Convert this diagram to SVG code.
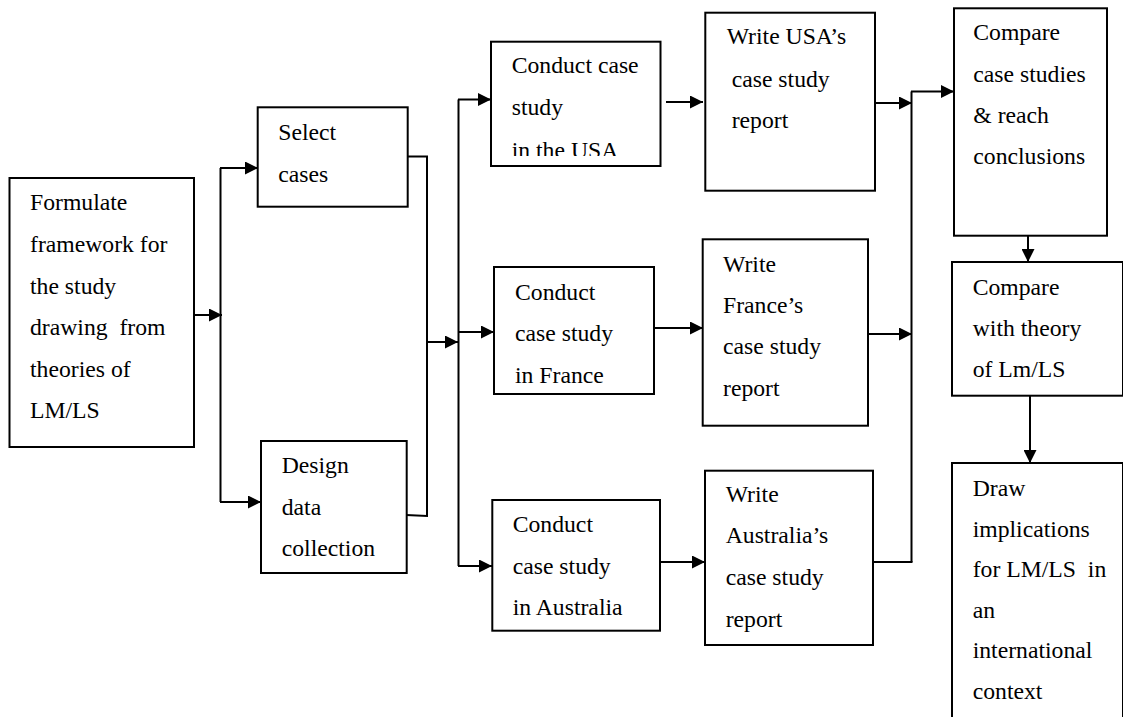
<svg xmlns="http://www.w3.org/2000/svg" width="1123" height="717" viewBox="0 0 1123 717">
<style>
.box{fill:#fff;stroke:#000;stroke-width:2}
.ln{fill:none;stroke:#000;stroke-width:2}
.t{font-family:"Liberation Serif","Times New Roman",serif;font-size:23.7px;fill:#000;white-space:pre}
</style>
<defs>
<marker id="ah" markerUnits="userSpaceOnUse" markerWidth="13" markerHeight="13" refX="13" refY="6.5" orient="auto">
<path d="M0,0 L13,6.5 L0,13 z" fill="#000"/>
</marker>
<clipPath id="clipUSA"><rect x="491" y="41" width="170" height="115"/></clipPath>
</defs>
<rect width="1123" height="717" fill="#fff"/>
<g id="connectors">
<line class="ln" x1="194" y1="315" x2="222" y2="315" marker-end="url(#ah)"/>
<line class="ln" x1="220.5" y1="168" x2="220.5" y2="502"/>
<line class="ln" x1="220" y1="168" x2="258" y2="168" marker-end="url(#ah)"/>
<line class="ln" x1="220" y1="502" x2="261" y2="502" marker-end="url(#ah)"/>
<polyline class="ln" points="408,156.5 427,156.5 427,516 406,515"/>
<line class="ln" x1="427" y1="342" x2="458" y2="342" marker-end="url(#ah)"/>
<line class="ln" x1="458.5" y1="99.5" x2="458.5" y2="566"/>
<line class="ln" x1="458" y1="99.5" x2="491" y2="99.5" marker-end="url(#ah)"/>
<line class="ln" x1="458" y1="332" x2="494" y2="332" marker-end="url(#ah)"/>
<line class="ln" x1="458" y1="566" x2="492" y2="566" marker-end="url(#ah)"/>
<line class="ln" x1="666" y1="102" x2="703" y2="102" marker-end="url(#ah)"/>
<line class="ln" x1="654" y1="328" x2="703" y2="328" marker-end="url(#ah)"/>
<line class="ln" x1="660" y1="562" x2="705" y2="562" marker-end="url(#ah)"/>
<line class="ln" x1="875" y1="103" x2="912" y2="103" marker-end="url(#ah)"/>
<line class="ln" x1="867" y1="334" x2="912" y2="334" marker-end="url(#ah)"/>
<line class="ln" x1="873" y1="562" x2="912.5" y2="562"/>
<line class="ln" x1="911.5" y1="91.5" x2="911.5" y2="562"/>
<line class="ln" x1="911" y1="91.5" x2="954" y2="91.5" marker-end="url(#ah)"/>
<line class="ln" x1="1028" y1="195" x2="1028" y2="262" marker-end="url(#ah)"/>
<line class="ln" x1="1030" y1="396" x2="1030" y2="463" marker-end="url(#ah)"/>
</g>
<g id="formulate">
<rect class="box" x="9.5" y="178" width="184.5" height="269"/>
<text class="t" x="30" y="210">Formulate</text>
<text class="t" x="30" y="252">framework for</text>
<text class="t" x="30" y="293.5">the study</text>
<text class="t" x="30" y="335">drawing  from</text>
<text class="t" x="30" y="376.5">theories of</text>
<text class="t" x="30" y="418">LM/LS</text>
</g>
<g id="select">
<rect class="box" x="257.7" y="107.3" width="150" height="99.4"/>
<text class="t" x="278.3" y="140">Select</text>
<text class="t" x="278.3" y="181.7">cases</text>
</g>
<g id="design">
<rect class="box" x="261" y="441" width="145.7" height="132"/>
<text class="t" x="281.7" y="472.7">Design</text>
<text class="t" x="281.7" y="514.5">data</text>
<text class="t" x="281.7" y="556">collection</text>
</g>
<g id="conduct-usa">
<rect class="box" x="491" y="41.7" width="169.5" height="124.3"/>
<text class="t" x="511.7" y="73.3">Conduct case</text>
<text class="t" x="511.7" y="115">study</text>
<text class="t" x="511.7" y="158.3" clip-path="url(#clipUSA)">in the USA</text>
</g>
<g id="write-usa">
<rect class="box" x="705.3" y="12.7" width="169.7" height="178"/>
<text class="t" x="726.7" y="44">Write USA’s</text>
<text class="t" x="731.7" y="86.7">case study</text>
<text class="t" x="731.7" y="128.3">report</text>
</g>
<g id="conduct-france">
<rect class="box" x="494" y="267" width="160" height="127"/>
<text class="t" x="515" y="300">Conduct</text>
<text class="t" x="515" y="341">case study</text>
<text class="t" x="515" y="382.7">in France</text>
</g>
<g id="write-france">
<rect class="box" x="702.7" y="239.3" width="165.3" height="186.4"/>
<text class="t" x="723" y="271.7">Write</text>
<text class="t" x="723" y="312.7">France’s</text>
<text class="t" x="723" y="354">case study</text>
<text class="t" x="723" y="395.7">report</text>
</g>
<g id="conduct-australia">
<rect class="box" x="492.3" y="500" width="167.7" height="130.7"/>
<text class="t" x="512.7" y="532">Conduct</text>
<text class="t" x="512.7" y="574">case study</text>
<text class="t" x="512.7" y="615">in Australia</text>
</g>
<g id="write-australia">
<rect class="box" x="705" y="470.7" width="168" height="174.3"/>
<text class="t" x="725.7" y="501.7">Write</text>
<text class="t" x="725.7" y="543">Australia’s</text>
<text class="t" x="725.7" y="585">case study</text>
<text class="t" x="725.7" y="626.7">report</text>
</g>
<g id="compare-cases">
<rect class="box" x="954" y="8.3" width="153" height="227.4"/>
<text class="t" x="973.3" y="40">Compare</text>
<text class="t" x="973.3" y="81.7">case studies</text>
<text class="t" x="973.3" y="123">&amp; reach</text>
<text class="t" x="973.3" y="164.3">conclusions</text>
</g>
<g id="compare-theory">
<rect class="box" x="952" y="262" width="171" height="133.7"/>
<text class="t" x="972.7" y="295">Compare</text>
<text class="t" x="972.7" y="336">with theory</text>
<text class="t" x="972.7" y="377">of Lm/LS</text>
</g>
<g id="draw-implications">
<rect class="box" x="952" y="463" width="171" height="270"/>
<text class="t" x="972.7" y="496">Draw</text>
<text class="t" x="972.7" y="536.7">implications</text>
<text class="t" x="972.7" y="577">for LM/LS  in</text>
<text class="t" x="972.7" y="618">an</text>
<text class="t" x="972.7" y="658">international</text>
<text class="t" x="972.7" y="698.7">context</text>
</g>
</svg>
